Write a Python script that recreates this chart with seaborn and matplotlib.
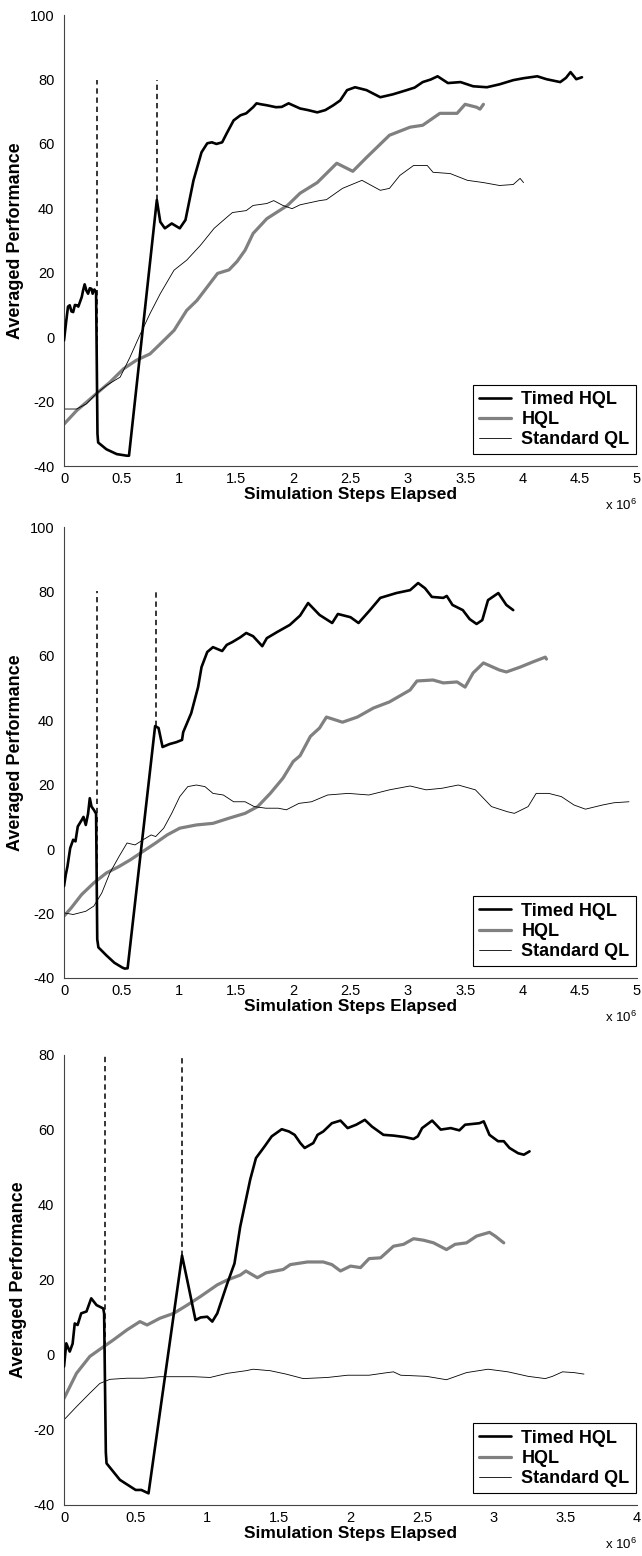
import numpy as np
import pandas as pd
import seaborn as sns
import matplotlib
matplotlib.use("Agg")
from matplotlib import pyplot as plt
from matplotlib.ticker import FuncFormatter, MultipleLocator

# values, x in millions of simulation steps
p1_timed = [(0, -1), (0.02, 5.2), (0.035, 9.5), (0.05, 9.9), (0.065, 8), (0.08, 7.8), (0.095, 10),
            (0.11, 9.9), (0.125, 9.5), (0.14, 11), (0.155, 12.5), (0.167, 14.6), (0.18, 16.4),
            (0.195, 14.5), (0.21, 13.5), (0.225, 15.2), (0.24, 15), (0.25, 13.5), (0.265, 14.8),
            (0.28, 14), (0.292, -30), (0.298, -32.7), (0.37, -34.8), (0.46, -36.3), (0.55, -36.8),
            (0.567, -36.8), (0.81, 42.6), (0.84, 35.8), (0.88, 33.8), (0.94, 35.3), (1.01, 33.8),
            (1.06, 36.4), (1.13, 48.7), (1.20, 57.4), (1.25, 60.2), (1.29, 60.5), (1.33, 60),
            (1.38, 60.5), (1.42, 63.3), (1.48, 67.3), (1.54, 68.9), (1.59, 69.5), (1.65, 71.4),
            (1.68, 72.6), (1.72, 72.3), (1.77, 72), (1.85, 71.4), (1.90, 71.5), (1.96, 72.6),
            (2.06, 71), (2.13, 70.5), (2.21, 69.8), (2.28, 70.5), (2.35, 72), (2.41, 73.5),
            (2.47, 76.7), (2.54, 77.6), (2.64, 76.7), (2.76, 74.5), (2.87, 75.4), (2.99, 76.7),
            (3.06, 77.5), (3.13, 79.2), (3.20, 80), (3.26, 81), (3.35, 78.9), (3.46, 79.2),
            (3.57, 77.9), (3.69, 77.6), (3.80, 78.5), (3.92, 79.8), (4.01, 80.4), (4.13, 81),
            (4.21, 80.1), (4.33, 79.2), (4.38, 80.5), (4.42, 82.3), (4.47, 80.1), (4.52, 80.7)]
p1_hql = [(0, -27), (0.11, -22.8), (0.196, -20.2), (0.28, -17.6), (0.40, -14), (0.52, -9.8),
          (0.63, -7.2), (0.75, -5.2), (0.84, -2.1), (0.96, 2.1), (1.07, 8.3), (1.16, 11.4),
          (1.25, 15.6), (1.34, 19.8), (1.44, 20.9), (1.51, 23.5), (1.58, 27), (1.65, 32.2),
          (1.77, 36.8), (1.95, 40.9), (2.06, 44.7), (2.21, 48), (2.38, 54), (2.52, 51.5),
          (2.64, 55.8), (2.84, 62.7), (3.02, 65.2), (3.13, 65.8), (3.28, 69.5), (3.43, 69.5),
          (3.50, 72.3), (3.60, 71.4), (3.63, 70.8), (3.66, 72.3)]
p1_std = [(0, -22.3), (0.11, -22.3), (0.196, -20.7), (0.28, -17.6), (0.37, -15), (0.49, -12.4),
          (0.576, -6.2), (0.66, 0.5), (0.75, 7.3), (0.84, 13.5), (0.96, 20.8), (1.07, 23.9),
          (1.19, 28.5), (1.31, 33.8), (1.42, 37.2), (1.47, 38.7), (1.59, 39.3), (1.65, 40.9),
          (1.77, 41.5), (1.83, 42.4), (1.91, 40.9), (1.99, 39.9), (2.06, 41.1), (2.23, 42.4),
          (2.29, 42.7), (2.43, 46.2), (2.60, 48.7), (2.76, 45.6), (2.84, 46.2), (2.93, 50.2),
          (3.05, 53.3), (3.17, 53.3), (3.22, 51.2), (3.37, 50.8), (3.52, 48.7), (3.66, 48),
          (3.80, 47.1), (3.92, 47.4), (3.98, 49.3), (4.01, 48)]

p2_timed = [(0, -11.5), (0.015, -8), (0.03, -5.4), (0.054, 0.3), (0.08, 2.9), (0.10, 2.4),
            (0.12, 7), (0.154, 9), (0.17, 10), (0.19, 7.5), (0.21, 11), (0.225, 15.8),
            (0.24, 13.2), (0.26, 12.2), (0.28, 11), (0.29, -28), (0.30, -30.5), (0.37, -33),
            (0.44, -35.3), (0.51, -36.8), (0.53, -37.1), (0.555, -37), (0.795, 38.2), (0.825, 37.6),
            (0.86, 31.7), (0.92, 32.6), (0.98, 33.2), (1.03, 33.9), (1.04, 36.3), (1.11, 42.2),
            (1.17, 50.3), (1.20, 56.5), (1.25, 61.2), (1.30, 62.7), (1.38, 61.5), (1.42, 63.4),
            (1.47, 64.3), (1.54, 65.8), (1.59, 67.1), (1.65, 66.1), (1.73, 63), (1.77, 65.5),
            (1.86, 67.4), (1.97, 69.6), (2.06, 72.5), (2.13, 76.4), (2.23, 72.7), (2.34, 70.2),
            (2.39, 73), (2.50, 72), (2.57, 70.2), (2.67, 74.2), (2.76, 78), (2.90, 79.5),
            (3.02, 80.4), (3.09, 82.6), (3.15, 81), (3.21, 78.3), (3.31, 78), (3.34, 78.6),
            (3.39, 75.8), (3.48, 74.2), (3.54, 71.4), (3.60, 69.9), (3.65, 71.1), (3.70, 77.3),
            (3.79, 79.5), (3.86, 75.8), (3.92, 74.2)]
p2_hql = [(0, -20.8), (0.064, -18.2), (0.154, -14.1), (0.26, -10.5), (0.37, -7.4), (0.48, -5.4),
          (0.58, -3.3), (0.69, -0.7), (0.80, 1.9), (0.90, 4.4), (1.01, 6.5), (1.155, 7.5),
          (1.30, 8), (1.44, 9.6), (1.58, 11.1), (1.69, 13.2), (1.80, 17.3), (1.91, 22),
          (2.00, 27.2), (2.06, 29), (2.15, 35), (2.23, 37.6), (2.29, 41), (2.43, 39.4),
          (2.56, 41), (2.70, 43.8), (2.84, 45.7), (3.02, 49.4), (3.08, 52.2), (3.22, 52.5),
          (3.31, 51.6), (3.43, 51.9), (3.50, 50.3), (3.57, 54.7), (3.66, 57.8), (3.80, 55.6),
          (3.86, 55), (3.98, 56.5), (4.09, 58.1), (4.20, 59.6), (4.21, 59)]
p2_std = [(0, -19.8), (0.08, -20.3), (0.19, -19.3), (0.26, -17.7), (0.33, -13.6), (0.40, -7.4),
          (0.48, -2.3), (0.55, 1.9), (0.62, 1.3), (0.69, 2.9), (0.76, 4.4), (0.80, 3.9),
          (0.87, 6.5), (0.94, 11.1), (1.01, 16.3), (1.08, 19.4), (1.155, 19.9), (1.23, 19.4),
          (1.30, 17.3), (1.39, 16.8), (1.48, 14.7), (1.58, 14.7), (1.66, 13.2), (1.76, 12.7),
          (1.87, 12.7), (1.94, 12.2), (2.05, 14.2), (2.16, 14.7), (2.30, 16.8), (2.48, 17.3),
          (2.66, 16.8), (2.84, 18.4), (3.02, 19.6), (3.16, 18.4), (3.30, 18.9), (3.44, 19.9),
          (3.59, 18.4), (3.73, 13.2), (3.87, 11.6), (3.93, 11.1), (4.05, 13.2), (4.12, 17.3),
          (4.23, 17.3), (4.34, 16.3), (4.45, 13.7), (4.55, 12.4), (4.70, 13.7), (4.80, 14.4),
          (4.93, 14.7)]

p3_timed = [(0, -3.1), (0.016, 3.1), (0.04, 0.9), (0.06, 3), (0.075, 8.4), (0.095, 8),
            (0.12, 11.1), (0.157, 11.6), (0.19, 15.1), (0.227, 13.3), (0.274, 12.4), (0.28, 11.1),
            (0.292, -26), (0.297, -28.9), (0.39, -33.3), (0.50, -36), (0.54, -36), (0.59, -36.9),
            (0.824, 26.5), (0.86, 20), (0.918, 9.3), (0.953, 10), (1.0, 10.2), (1.035, 8.9),
            (1.07, 11.1), (1.14, 19.1), (1.19, 24.4), (1.23, 34.2), (1.30, 46.8), (1.34, 52.5),
            (1.40, 55.6), (1.45, 58.3), (1.52, 60.2), (1.57, 59.6), (1.61, 58.7), (1.65, 56.5),
            (1.68, 55.2), (1.74, 56.5), (1.77, 58.7), (1.81, 59.6), (1.87, 61.8), (1.93, 62.5),
            (1.98, 60.5), (2.04, 61.4), (2.10, 62.7), (2.15, 60.9), (2.23, 58.7), (2.30, 58.5),
            (2.38, 58.1), (2.44, 57.6), (2.47, 58.3), (2.50, 60.5), (2.57, 62.5), (2.63, 60.1),
            (2.70, 60.5), (2.76, 59.9), (2.80, 61.4), (2.90, 61.8), (2.93, 62.3), (2.97, 58.7),
            (3.03, 57), (3.07, 57), (3.11, 55.2), (3.17, 53.8), (3.21, 53.4), (3.25, 54.3)]
p3_hql = [(0, -11.6), (0.087, -4.9), (0.18, -0.4), (0.25, 1.5), (0.344, 4), (0.44, 6.7),
          (0.53, 8.9), (0.58, 8), (0.67, 9.8), (0.766, 11.1), (0.86, 13.3), (0.953, 15.6),
          (1.07, 18.7), (1.14, 20), (1.23, 21.3), (1.27, 22.4), (1.35, 20.6), (1.41, 21.9),
          (1.53, 22.8), (1.58, 24.1), (1.70, 24.8), (1.81, 24.8), (1.87, 24.1), (1.93, 22.4),
          (2.00, 23.7), (2.07, 23.3), (2.13, 25.7), (2.21, 25.9), (2.30, 29), (2.37, 29.5),
          (2.44, 31), (2.51, 30.6), (2.58, 29.9), (2.67, 28.1), (2.73, 29.5), (2.81, 29.9),
          (2.88, 31.7), (2.97, 32.7), (3.01, 31.7), (3.07, 29.9)]
p3_std = [(0, -17.3), (0.087, -13.8), (0.18, -10.2), (0.25, -7.6), (0.32, -6.5), (0.44, -6.2),
          (0.555, -6.2), (0.67, -5.8), (0.81, -5.8), (0.906, -5.8), (1.02, -6), (1.14, -4.9),
          (1.27, -4.2), (1.32, -3.8), (1.44, -4.2), (1.55, -5.1), (1.67, -6.3), (1.84, -6),
          (1.98, -5.4), (2.13, -5.4), (2.24, -4.8), (2.30, -4.5), (2.35, -5.4), (2.53, -5.7),
          (2.67, -6.6), (2.81, -4.7), (2.96, -3.8), (3.10, -4.5), (3.24, -5.7), (3.36, -6.3),
          (3.41, -5.7), (3.48, -4.5), (3.56, -4.7), (3.63, -5.1)]

# switching points (dashed markers), they rise to 80
p1_events = [0.288, 0.81]
p2_events = [0.288, 0.80]
p3_events = [0.286, 0.824]
event_top = 80

series_names = ['Timed HQL', 'HQL', 'Standard QL']
series_colors = ['black', '#808080', 'black']
series_widths = [1.9, 2.3, 0.6]

panels = [
    {'data': [p1_timed, p1_hql, p1_std], 'events': p1_events, 'xmax': 5, 'ylim': (-40, 100)},
    {'data': [p2_timed, p2_hql, p2_std], 'events': p2_events, 'xmax': 5, 'ylim': (-40, 100)},
    {'data': [p3_timed, p3_hql, p3_std], 'events': p3_events, 'xmax': 4, 'ylim': (-40, 80)},
]
boxes = [[0.0997, 0.7005, 0.8925, 0.2898],
         [0.0997, 0.3715, 0.8925, 0.2898],
         [0.0997, 0.0328, 0.8925, 0.2892]]

sns.set_theme(style="white")
plt.rcParams['font.family'] = ['Liberation Sans', 'DejaVu Sans']
plt.rcParams['axes.unicode_minus'] = False
plt.rcParams['mathtext.default'] = 'regular'
plt.rcParams['text.color'] = 'black'
plt.rcParams['axes.labelcolor'] = 'black'

fig = plt.figure(figsize=(6.42, 15.56), dpi=100)

for box, panel in zip(boxes, panels):
    ax = fig.add_axes(box)

    tx, ty = np.array(panel['data'][0]).T
    for ex in panel['events']:
        ax.plot([ex, ex], [np.interp(ex, tx, ty), event_top], color='black',
                linestyle=(0, (3.5, 2.5)), linewidth=1.1, zorder=1)

    for name, pts, col, lw in zip(series_names, panel['data'], series_colors, series_widths):
        arr = np.array(pts)
        df = pd.DataFrame({'step': arr[:, 0], 'perf': arr[:, 1]})
        sns.lineplot(data=df, x='step', y='perf', ax=ax, color=col, linewidth=lw,
                     label=name, estimator=None, sort=False,
                     zorder=3 if name == 'Timed HQL' else 2)

    ax.set_xlim(0, panel['xmax'])
    ax.set_ylim(*panel['ylim'])
    ax.xaxis.set_major_locator(MultipleLocator(0.5))
    ax.yaxis.set_major_locator(MultipleLocator(20))
    ax.xaxis.set_major_formatter(FuncFormatter(lambda v, p: f'{v:g}'))
    ax.yaxis.set_major_formatter(FuncFormatter(lambda v, p: f'{v:g}'))
    ax.tick_params(direction='in', length=4, width=0.8, color='#444444',
                   labelcolor='black', labelsize=10.5)
    ax.tick_params(axis='x', pad=4)
    ax.tick_params(axis='y', pad=7)
    for side in ['top', 'right']:
        ax.spines[side].set_visible(False)
    for side in ['left', 'bottom']:
        ax.spines[side].set_color('#444444')
        ax.spines[side].set_linewidth(0.8)

    ax.set_xlabel('Simulation Steps Elapsed', fontsize=12.5, fontweight='bold', labelpad=1)
    ax.set_ylabel('Averaged Performance', fontsize=13, fontweight='bold', labelpad=4)
    ax.text(1.0, -0.088, r'x 10$^{6}$', transform=ax.transAxes, ha='right',
            va='center', fontsize=9.5)

    leg = ax.legend(loc='lower right', bbox_to_anchor=(0.998, 0.026), borderaxespad=0,
                    frameon=True, fancybox=False, framealpha=1, edgecolor='black',
                    borderpad=0.35, labelspacing=0.17, handlelength=1.75,
                    handletextpad=0.6, prop={'weight': 'bold', 'size': 13})
    leg.get_frame().set_linewidth(0.8)

fig.savefig('out.png', dpi=100)
